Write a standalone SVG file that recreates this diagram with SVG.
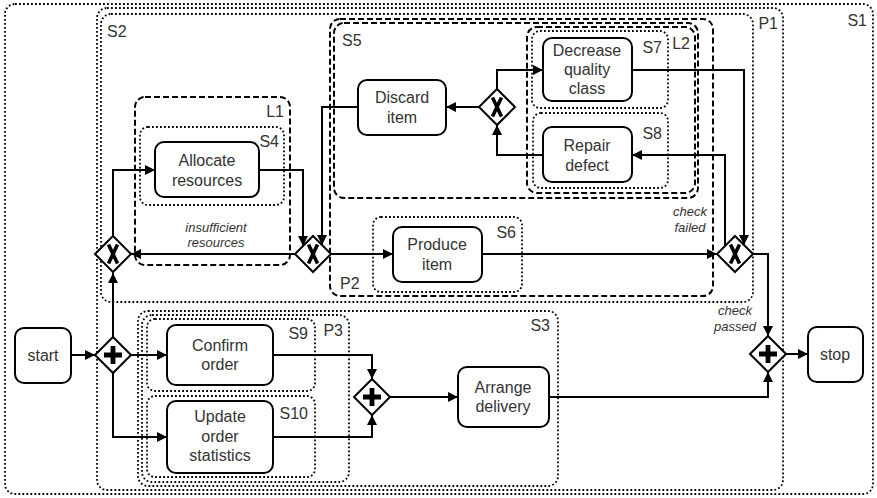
<svg xmlns="http://www.w3.org/2000/svg" width="877" height="498" viewBox="0 0 877 498">
<defs>
<marker id="arr" viewBox="0 0 10 10" refX="10" refY="5" markerWidth="10" markerHeight="10" markerUnits="userSpaceOnUse" orient="auto"><path d="M0,0 L10,5 L0,10 z" fill="#000"/></marker>
<g id="xmark"><path d="M-4.5,-9.5 L4.5,9.5 M4.5,-9.5 L-4.5,9.5" stroke="#000" stroke-width="3.6" fill="none"/></g>
<g id="pmark"><path d="M-2.4,-9 H2.4 V-2.4 H9 V2.4 H2.4 V9 H-2.4 V2.4 H-9 V-2.4 H-2.4 z" fill="#000"/></g>
</defs>
<style>
.dot{fill:none;stroke:#000;stroke-width:1.8;stroke-dasharray:1.8 2.2}
.dash{fill:none;stroke:#000;stroke-width:2;stroke-dasharray:6 3}
.task{fill:#fff;stroke:#000;stroke-width:2}
.gw{fill:#fff;stroke:#000;stroke-width:2}
.e{fill:none;stroke:#000;stroke-width:2;marker-end:url(#arr)}
text{font-family:"Liberation Sans",Arial,Helvetica,sans-serif;font-size:16px;fill:#333}
.c{text-anchor:middle}
.r{text-anchor:end}
.lbl{font-size:13px;font-style:italic;text-anchor:middle}
</style>
<rect width="877" height="498" fill="#fff"/>

<!-- containers -->
<g id="S1"><rect class="dot" x="5" y="4" width="868" height="490" rx="10"/><text class="r" x="867" y="26">S1</text></g>
<g id="P1"><rect class="dot" x="97" y="8" width="686" height="482" rx="10"/><text class="r" x="778" y="29">P1</text></g>
<g id="S2"><rect class="dot" x="101" y="14" width="652" height="288" rx="10"/><text x="107" y="37">S2</text></g>
<g id="L1"><rect class="dash" x="135" y="97" width="155" height="168" rx="10"/><text class="r" x="284" y="117">L1</text></g>
<g id="S4"><rect class="dot" x="140" y="127" width="144" height="78" rx="8"/><text class="r" x="279" y="147">S4</text></g>
<g id="P2"><rect class="dash" x="330" y="19" width="383" height="277" rx="10"/><text x="340" y="289">P2</text></g>
<g id="S5"><rect class="dash" x="334" y="23" width="364" height="175" rx="10"/><text x="342" y="46">S5</text></g>
<g id="L2"><rect class="dash" x="527" y="27" width="168" height="166" rx="10"/><text class="r" x="690" y="49">L2</text></g>
<g id="S7"><rect class="dot" x="532" y="31" width="136" height="77" rx="8"/><text class="r" x="662" y="53">S7</text></g>
<g id="S8"><rect class="dot" x="533" y="113" width="135" height="75" rx="8"/><text class="r" x="662" y="139">S8</text></g>
<g id="S6"><rect class="dot" x="373" y="217" width="149" height="75" rx="8"/><text class="r" x="516" y="238">S6</text></g>
<g id="S3"><rect class="dot" x="138" y="311" width="420" height="175" rx="10"/><text class="r" x="550" y="331">S3</text></g>
<g id="P3"><rect class="dot" x="142" y="315" width="207" height="167" rx="10"/><text class="r" x="343" y="336">P3</text></g>
<g id="S9"><rect class="dot" x="147" y="319" width="168" height="72" rx="8"/><text class="r" x="308" y="339">S9</text></g>
<g id="S10"><rect class="dot" x="147" y="396" width="168" height="81" rx="8"/><text class="r" x="308" y="419">S10</text></g>

<!-- connectors -->
<g id="connectors">
<path class="e" d="M71,355 H95"/>
<path class="e" d="M113,337 V273"/>
<path class="e" d="M131,355 H167"/>
<path class="e" d="M113,373 V437 H167"/>
<path class="e" d="M113,236 V170 H155"/>
<path class="e" d="M259,170 H303 V246"/>
<path class="e" d="M358,107 H322 V245"/>
<path class="e" d="M295,254 H131"/>
<path class="e" d="M331,254 H393"/>
<path class="e" d="M482,254 H717"/>
<path class="e" d="M725,246 V155 H632"/>
<path class="e" d="M632,70 H744 V245"/>
<path class="e" d="M753,254 H768 V336"/>
<path class="e" d="M786,354 H808"/>
<path class="e" d="M549,397 H768 V372"/>
<path class="e" d="M390,397 H458"/>
<path class="e" d="M273,355 H372 V379"/>
<path class="e" d="M273,437 H372 V415"/>
<path class="e" d="M479,107 H446"/>
<path class="e" d="M497,89 V70 H543"/>
<path class="e" d="M543,155 H497 V125"/>
<text class="lbl" x="216" y="232">insufficient</text>
<text class="lbl" x="216" y="247">resources</text>
<text class="lbl" x="690" y="216">check</text>
<text class="lbl" x="690" y="232">failed</text>
<text class="lbl" x="735" y="315">check</text>
<text class="lbl" x="735" y="331">passed</text>
</g>

<!-- nodes -->
<g id="start"><rect class="task" x="15" y="328" width="56" height="55" rx="9"/><text class="c" x="43" y="361">start</text></g>
<g id="stop"><rect class="task" x="808" y="327" width="55" height="55" rx="9"/><text class="c" x="835" y="360">stop</text></g>
<g id="and1"><path class="gw" d="M113,337 L131,355 L113,373 L95,355 z"/><use href="#pmark" x="113" y="355"/></g>
<g id="xor1"><path class="gw" d="M113,236 L131,254 L113,272 L95,254 z"/><use href="#xmark" x="113" y="254"/></g>
<g id="xor2"><path class="gw" d="M313,236 L331,254 L313,272 L295,254 z"/><use href="#xmark" x="313" y="254"/></g>
<g id="xor3"><path class="gw" d="M497,89 L515,107 L497,125 L479,107 z"/><use href="#xmark" x="497" y="107"/></g>
<g id="xor4"><path class="gw" d="M735,236 L753,254 L735,272 L717,254 z"/><use href="#xmark" x="735" y="254"/></g>
<g id="and2"><path class="gw" d="M768,336 L786,354 L768,372 L750,354 z"/><use href="#pmark" x="768" y="354"/></g>
<g id="and3"><path class="gw" d="M372,379 L390,397 L372,415 L354,397 z"/><use href="#pmark" x="372" y="397"/></g>
<g id="allocate"><rect class="task" x="155" y="142" width="104" height="55" rx="9"/><text class="c" x="207" y="166">Allocate</text><text class="c" x="207" y="186">resources</text></g>
<g id="discard"><rect class="task" x="358" y="80" width="88" height="55" rx="9"/><text class="c" x="402" y="103">Discard</text><text class="c" x="402" y="123">item</text></g>
<g id="decrease"><rect class="task" x="543" y="38" width="89" height="63" rx="9"/><text class="c" x="587" y="56">Decrease</text><text class="c" x="587" y="75">quality</text><text class="c" x="587" y="94">class</text></g>
<g id="repair"><rect class="task" x="543" y="127" width="89" height="55" rx="9"/><text class="c" x="587" y="151">Repair</text><text class="c" x="587" y="171">defect</text></g>
<g id="produce"><rect class="task" x="393" y="227" width="89" height="55" rx="9"/><text class="c" x="437" y="250">Produce</text><text class="c" x="437" y="270">item</text></g>
<g id="confirm"><rect class="task" x="167" y="325" width="106" height="60" rx="9"/><text class="c" x="220" y="351">Confirm</text><text class="c" x="220" y="370">order</text></g>
<g id="update"><rect class="task" x="167" y="401" width="106" height="72" rx="9"/><text class="c" x="220" y="422">Update</text><text class="c" x="220" y="442">order</text><text class="c" x="220" y="461">statistics</text></g>
<g id="arrange"><rect class="task" x="458" y="367" width="91" height="60" rx="9"/><text class="c" x="503" y="393">Arrange</text><text class="c" x="503" y="412">delivery</text></g>
</svg>
